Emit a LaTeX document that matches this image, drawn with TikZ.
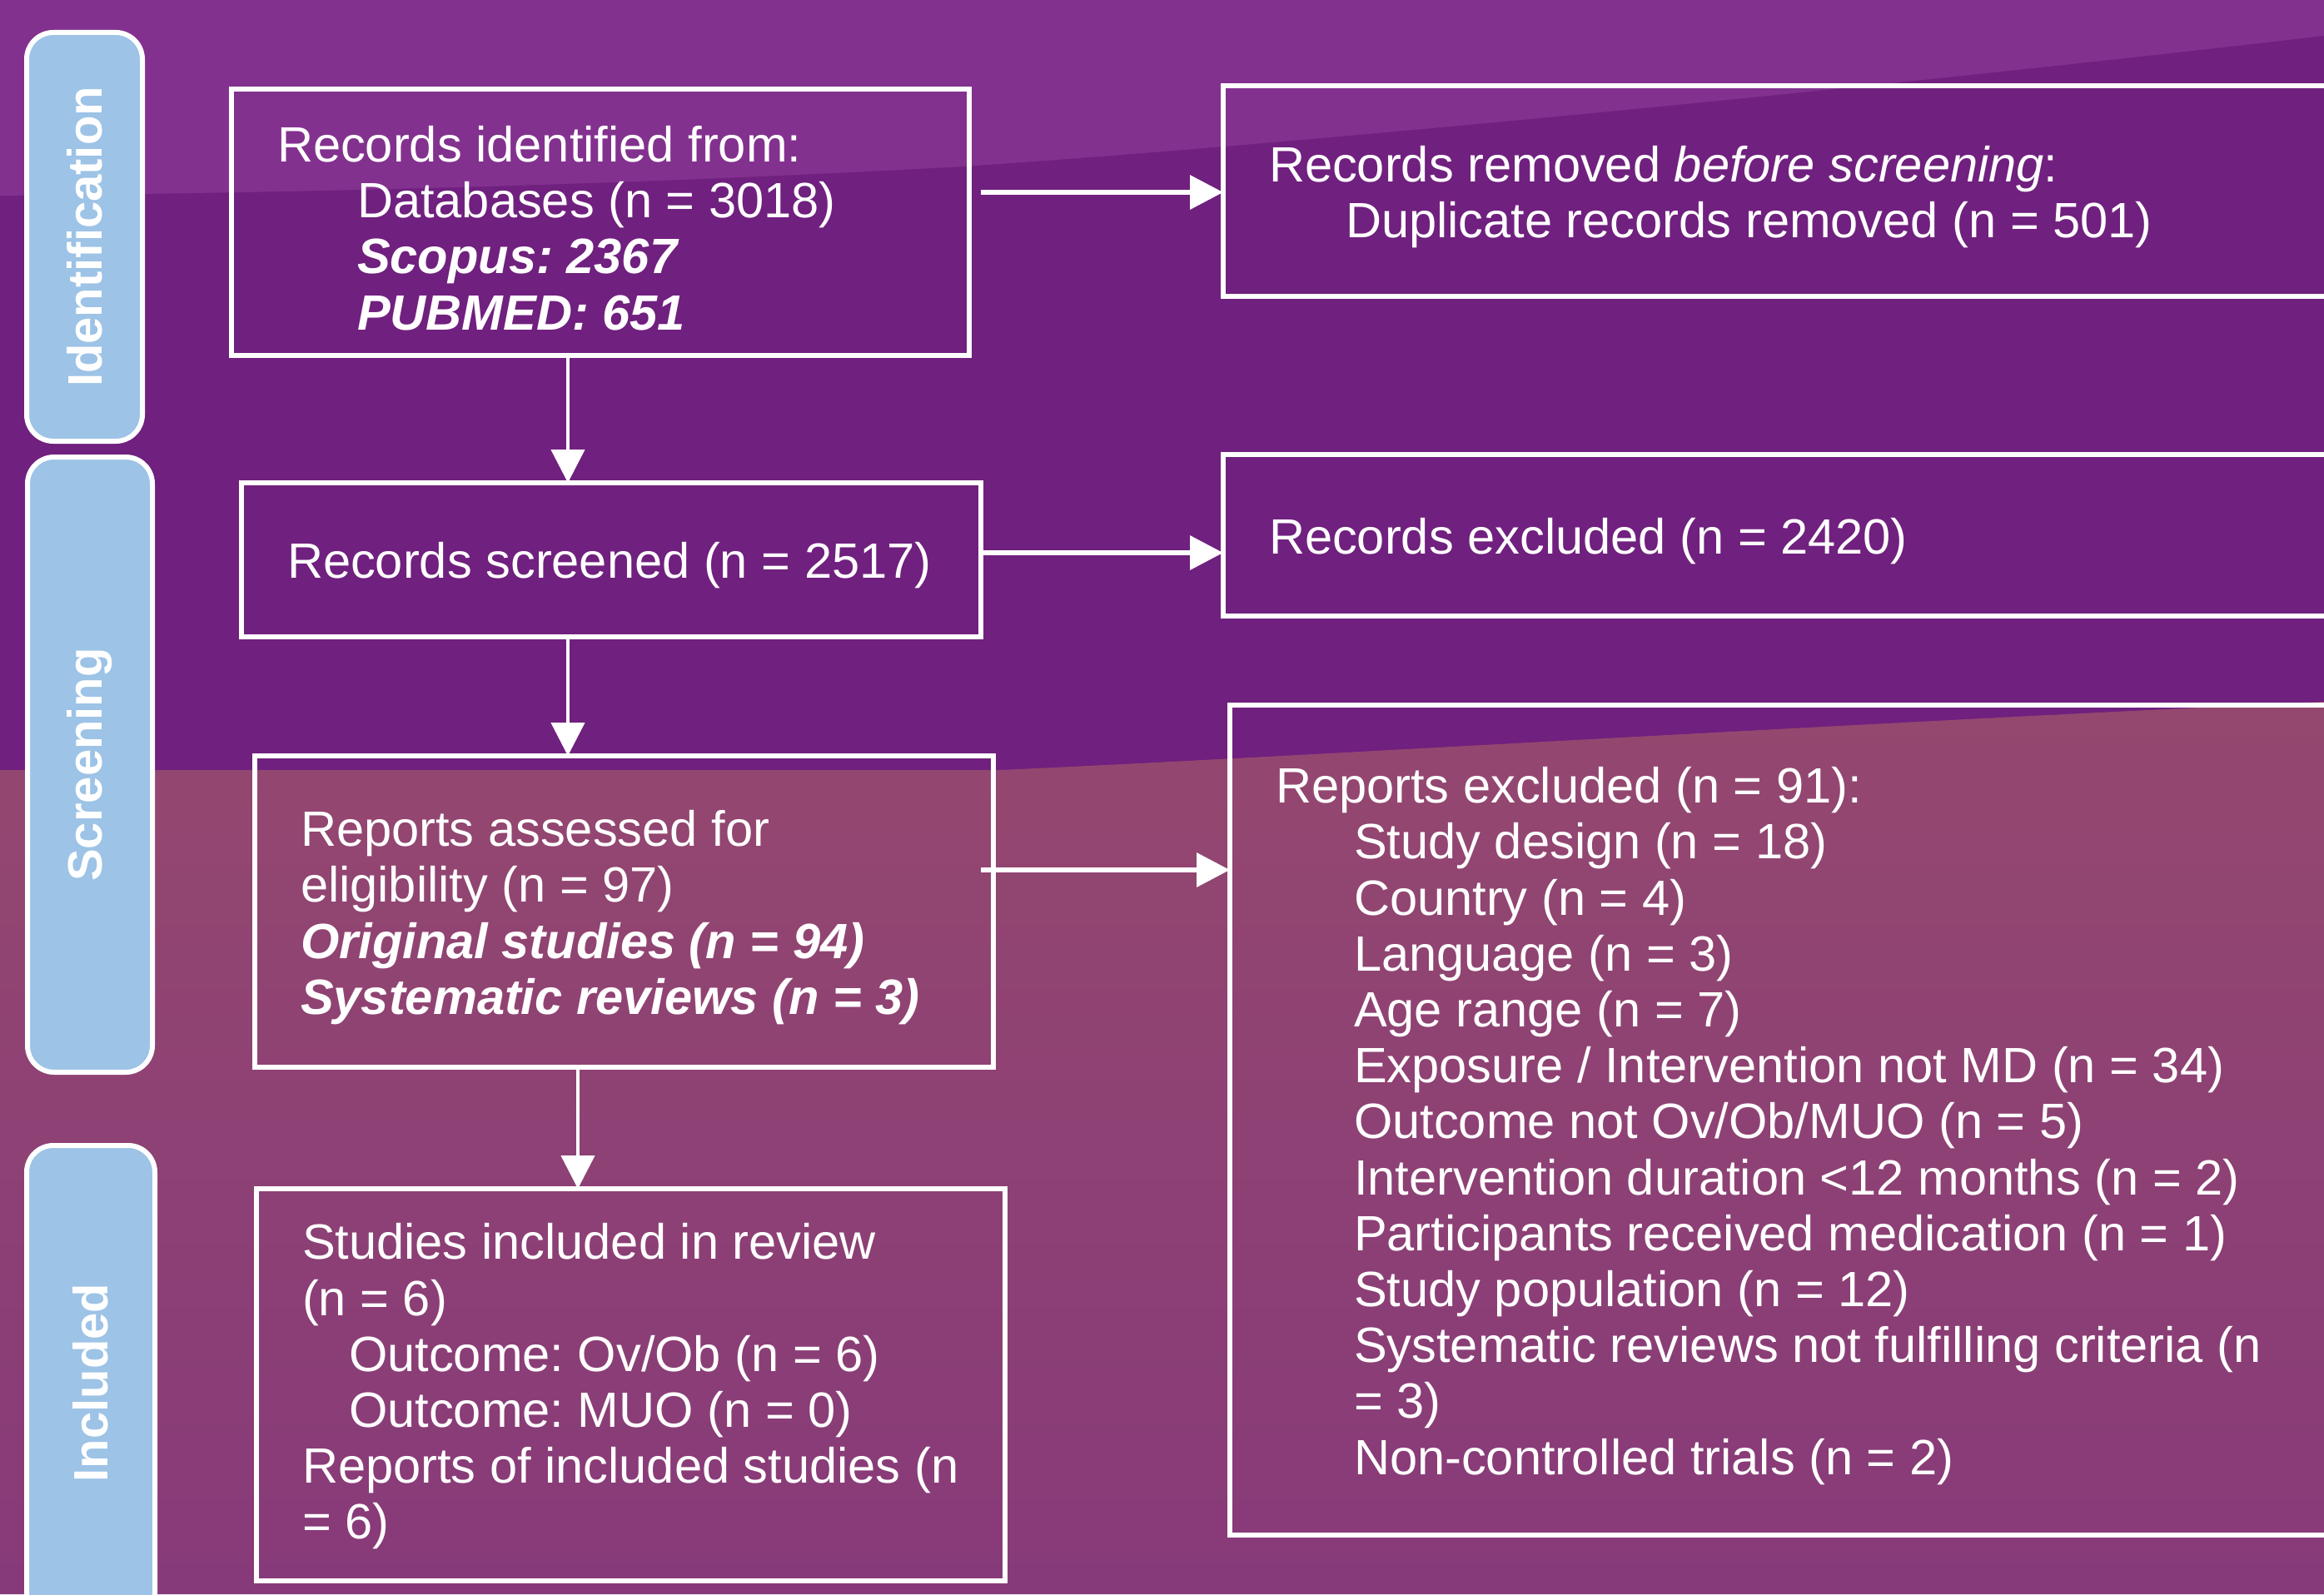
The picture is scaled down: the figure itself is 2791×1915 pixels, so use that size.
\documentclass[tikz,border=0pt]{standalone}
\usepackage{fontspec}
\setmainfont{Liberation Sans}
\usetikzlibrary{arrows.meta}
\definecolor{bgdark}{HTML}{70207E}
\definecolor{bglight}{HTML}{83318F}
\definecolor{mauvetop}{HTML}{94486F}
\definecolor{mauvebot}{HTML}{873A79}
\definecolor{tabblue}{HTML}{9DC3E6}
\newcommand{\pbfont}{\fontsize{14.9pt}{16.8pt}\selectfont\frenchspacing}
\newcommand{\tbfont}{\fontsize{14.5pt}{16pt}\selectfont\bfseries}
\newcommand{\ind}[1]{\hspace*{#1}}
\begin{document}
\begin{tikzpicture}[x=0.25pt,y=-0.25pt,
  box/.style={draw=white, line width=1.5pt, anchor=north west, inner sep=0pt, outer sep=0pt},
  txt/.style={text=white, align=left, anchor=west, inner sep=0pt, outer sep=0pt, font=\pbfont, xshift=13.75pt, yshift=-1.75pt},
  tab/.style={draw=white, line width=1.5pt, fill=tabblue, rounded corners=8pt, rotate=90,
    text=white, font=\tbfont, inner sep=0pt, outer sep=0pt},
  harrow/.style={draw=white, line width=1.7pt, -{Triangle[length=10pt,width=10pt]}},
  varrow/.style={draw=white, line width=1.1pt, -{Triangle[length=10pt,width=10pt]}}]
\useasboundingbox (0,0) rectangle (2791,1915);
\clip (0,0) rectangle (2791,1915);
% background
\fill[bgdark] (0,0) rectangle (2791,1915);
\fill[bglight] (0,0) -- (2791,0) -- (2791,43) .. controls (2300,100) and (1600,170) .. (1157,200)
  .. controls (700,225) and (300,232) .. (0,235) -- cycle;
\shade[top color=mauvetop, bottom color=mauvebot] (0,925) -- (1200,925)
  .. controls (1500,912) and (2200,870) .. (2791,843) -- (2791,1915) -- (0,1915) -- cycle;
% phase tabs
\node[tab, minimum width=122.75pt, minimum height=34.75pt] (t1) at (101.5,284.5) {Identification};
\node[tab, minimum width=184.75pt, minimum height=37.5pt] (t2) at (108,918.5) {Screening};
\node[tab, minimum width=142.5pt, minimum height=38.5pt] (t3) at (109,1661) {Included};
% boxes
\node[box, minimum width=221.5pt, minimum height=80pt] (b1) at (278,107) {};
\node[box, minimum width=340.25pt, minimum height=63.25pt] (b2) at (1469,103) {};
\node[box, minimum width=222pt, minimum height=46.25pt] (b3) at (290,580) {};
\node[box, minimum width=340.25pt, minimum height=48.5pt] (b4) at (1469,546) {};
\node[box, minimum width=221.75pt, minimum height=93.5pt] (b5) at (306,908) {};
\node[box, minimum width=338.25pt, minimum height=249.25pt] (b6) at (1477,847) {};
\node[box, minimum width=224.75pt, minimum height=117.75pt] (b7) at (308,1428) {};
% box texts
\node[txt] (b1t) at (b1.west)
  {Records identified from:\\\ind{24pt}Databases (n = 3018)\\\ind{24pt}{\bfseries\itshape Scopus: 2367}\\\ind{24pt}{\bfseries\itshape PUBMED: 651}};
\node[txt] (b2t) at (b2.west)
  {Records removed \textit{before screening}:\\\ind{23pt}Duplicate records removed (n = 501)};
\node[txt] (b3t) at (b3.west) {Records screened (n = 2517)};
\node[txt] (b4t) at (b4.west) {Records excluded (n = 2420)};
\node[txt] (b5t) at (b5.west)
  {Reports assessed for\\eligibility (n = 97)\\{\bfseries\itshape Original studies (n = 94)}\\{\bfseries\itshape Systematic reviews (n = 3)}};
\node[txt] (b6t) at (b6.west)
  {Reports excluded (n = 91):\\
   \ind{23.5pt}Study design (n = 18)\\
   \ind{23.5pt}Country (n = 4)\\
   \ind{23.5pt}Language (n = 3)\\
   \ind{23.5pt}Age range (n = 7)\\
   \ind{23.5pt}Exposure / Intervention not MD (n = 34)\\
   \ind{23.5pt}Outcome not Ov/Ob/MUO (n = 5)\\
   \ind{23.5pt}Intervention duration <12 months (n = 2)\\
   \ind{23.5pt}Participants received medication (n = 1)\\
   \ind{23.5pt}Study population (n = 12)\\
   \ind{23.5pt}Systematic reviews not fulfilling criteria (n\\
   \ind{23.5pt}= 3)\\
   \ind{23.5pt}Non-controlled trials (n = 2)};
\node[txt, yshift=1.25pt] (b7t) at (b7.west)
  {Studies included in review\\(n = 6)\\\ind{14pt}Outcome: Ov/Ob (n = 6)\\\ind{14pt}Outcome: MUO (n = 0)\\Reports of included studies (n\\= 6)};
% connectors
\coordinate (s12) at (1178,231);
\coordinate (s34) at (1178,664);
\coordinate (s56) at (1178,1045);
\coordinate (v1) at (682,0);
\coordinate (v2) at (694,0);
\draw[harrow] (s12) -- (s12 -| b2.west);
\draw[harrow] (s34) -- (s34 -| b4.west);
\draw[harrow] (s56) -- (s56 -| b6.west);
\draw[varrow] (v1 |- b1.south) -- (v1 |- b3.north);
\draw[varrow] (v1 |- b3.south) -- (v1 |- b5.north);
\draw[varrow] (v2 |- b5.south) -- (v2 |- b7.north);
\end{tikzpicture}
\end{document}
